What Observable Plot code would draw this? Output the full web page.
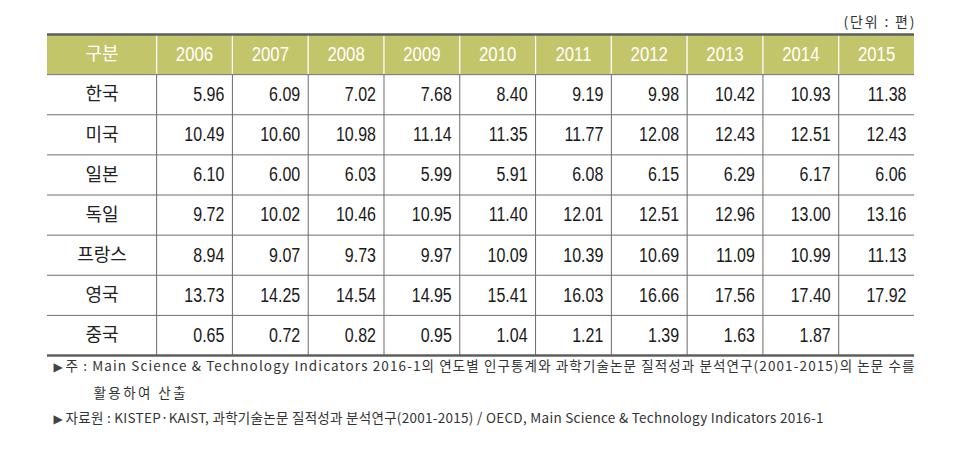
<!DOCTYPE html>
<html>
<head>
<meta charset="utf-8">
<script src="https://cdn.jsdelivr.net/npm/d3@7"></script>
<script src="https://cdn.jsdelivr.net/npm/@observablehq/plot@0.6"></script>
<style>
  html, body { margin: 0; padding: 0; background: #fff; }
  #chart { width: 980px; height: 451px; }
</style>
</head>
<body>
<div id="chart"></div>
<script>
// ---- data ----
const headerLabel = "구분";
const years = ["2006", "2007", "2008", "2009", "2010", "2011", "2012", "2013", "2014", "2015"];
const countries = ["한국", "미국", "일본", "독일", "프랑스", "영국", "중국"];
const korea   = [5.96, 6.09, 7.02, 7.68, 8.40, 9.19, 9.98, 10.42, 10.93, 11.38];
const usa     = [10.49, 10.60, 10.98, 11.14, 11.35, 11.77, 12.08, 12.43, 12.51, 12.43];
const japan   = [6.10, 6.00, 6.03, 5.99, 5.91, 6.08, 6.15, 6.29, 6.17, 6.06];
const germany = [9.72, 10.02, 10.46, 10.95, 11.40, 12.01, 12.51, 12.96, 13.00, 13.16];
const france  = [8.94, 9.07, 9.73, 9.97, 10.09, 10.39, 10.69, 11.09, 10.99, 11.13];
const uk      = [13.73, 14.25, 14.54, 14.95, 15.41, 16.03, 16.66, 17.56, 17.40, 17.92];
const china   = [0.65, 0.72, 0.82, 0.95, 1.04, 1.21, 1.39, 1.63, 1.87, null];
const unitLabel = "(단위 : 편)";
const note1 = "주 : Main Science & Technology Indicators 2016-1의 연도별 인구통계와 과학기술논문 질적성과 분석연구(2001-2015)의 논문 수를";
const note2 = "활용하여 산출";
const note3 = "자료원 : KISTEP·KAIST, 과학기술논문 질적성과 분석연구(2001-2015) / OECD, Main Science & Technology Indicators 2016-1";

// ---- table layout in column units ----
const series = [korea, usa, japan, germany, france, uk, china];
const columns = [headerLabel, ...years];
const firstW = 1.44;                       // first column is wider
const colLeft = i => (i === 0 ? 0 : firstW + (i - 1));
const colRight = i => (i === 0 ? firstW : firstW + i);
const colMid = i => (colLeft(i) + colRight(i)) / 2;
const totalW = colRight(columns.length - 1);
const nRows = countries.length + 1;

const cells = [];
series.forEach((vals, r) => vals.forEach((v, c) => {
  if (v != null) cells.push({row: r + 1, col: c + 1, value: v});
}));

const numFont = "'Liberation Sans', Arial, sans-serif";
const korFont = "'Noto Sans CJK KR', 'Noto Sans', sans-serif";
const noteFont = "'Noto Sans CJK KR', 'Liberation Sans', sans-serif";
const triOpts = {frameAnchor: "bottom-left", dx: 6, textAnchor: "start", fill: "#444", fontSize: 12, fontFamily: "'DejaVu Sans', sans-serif"};

const plot = Plot.plot({
  width: 980,
  height: 451,
  marginLeft: 47,
  marginRight: 66,
  marginTop: 34,
  marginBottom: 96,
  x: {domain: [0, totalW], axis: null},
  y: {domain: [0, nRows], range: [34, 355], axis: null},
  style: {background: "#fff"},
  marks: [
    // header background
    Plot.rect(columns, {x1: (d, i) => colLeft(i), x2: (d, i) => colRight(i), y1: 0, y2: 1, fill: "#c3c56b"}),
    // header vertical separators (white)
    Plot.ruleX(columns.slice(1), {x: (d, i) => colLeft(i + 1), y1: 0, y2: 1, stroke: "#fff", strokeWidth: 1.2}),
    // body vertical separators
    Plot.ruleX(columns.slice(1), {x: (d, i) => colLeft(i + 1), y1: 1, y2: nRows, stroke: "#6a6a6a", strokeWidth: 1}),
    // horizontal row lines
    Plot.ruleY(d3.range(1, nRows), {y: d => d, stroke: "#6f6f6f", strokeWidth: 1}),
    // top & bottom borders
    Plot.ruleY([0, nRows], {stroke: "#5e5e5e", strokeWidth: 2.6}),
    // header labels
    Plot.text([headerLabel], {x: colMid(0), y: 0.5, fill: "#fff", fontSize: 18, fontFamily: korFont}),
    Plot.text(years, {x: (d, i) => colMid(i + 1), y: 0.5, fill: "#fff", fontSize: 21, fontFamily: numFont}),
    // country names
    Plot.text(countries, {x: colMid(0), y: (d, i) => i + 1.5, fill: "#222", fontSize: 18, fontFamily: korFont}),
    // values
    Plot.text(cells, {x: d => colRight(d.col), y: d => d.row + 0.5, text: d => d.value.toFixed(2),
      textAnchor: "end", dx: -8, fill: "#1a1a1a", fontSize: 20, fontFamily: numFont}),
    // unit label
    Plot.text([unitLabel], {frameAnchor: "top-right", dy: -17, textAnchor: "end", fill: "#333", fontSize: 14, fontFamily: noteFont}),
    // footnotes
    Plot.text(["▶"], {...triOpts, dy: 15}),
    Plot.text(["▶"], {...triOpts, dy: 67}),
    Plot.text([note1], {frameAnchor: "bottom-left", dx: 18, dy: 15, textAnchor: "start", fill: "#333", fontSize: 13.5, fontFamily: noteFont}),
    Plot.text([note2], {frameAnchor: "bottom-left", dx: 46, dy: 42, textAnchor: "start", fill: "#333", fontSize: 13.5, fontFamily: noteFont}),
    Plot.text([note3], {frameAnchor: "bottom-left", dx: 18, dy: 67, textAnchor: "start", fill: "#333", fontSize: 13.5, fontFamily: noteFont})
  ]
});

// condense numeric text horizontally (the original uses a narrow face)
const SX = 0.8;
plot.querySelectorAll("text").forEach(t => {
  const s = t.textContent;
  if (/^\d+(\.\d+)?$/.test(s)) {
    const tr = t.getAttribute("transform");
    const xa = t.getAttribute("x"), ya = t.getAttribute("y");
    if (xa != null || ya != null) {
      const x = +xa || 0, y = +ya || 0;
      t.setAttribute("transform", `${tr ? tr + " " : ""}translate(${x},${y}) scale(${SX},1) translate(${-x},${-y})`);
    } else if (tr) {
      t.setAttribute("transform", `${tr} scale(${SX},1)`);
    }
  }
  // justify footnote lines like the original
  if (s === note1) { t.setAttribute("textLength", 849); t.setAttribute("lengthAdjust", "spacing"); }
  if (s === note3) { t.setAttribute("textLength", 758); t.setAttribute("lengthAdjust", "spacing"); }
  if (s === note2) { t.setAttribute("textLength", 92); t.setAttribute("lengthAdjust", "spacing"); }
  if (s === unitLabel) { t.setAttribute("textLength", 71); t.setAttribute("lengthAdjust", "spacing"); }
});

document.getElementById("chart").appendChild(plot);
</script>
</body>
</html>
